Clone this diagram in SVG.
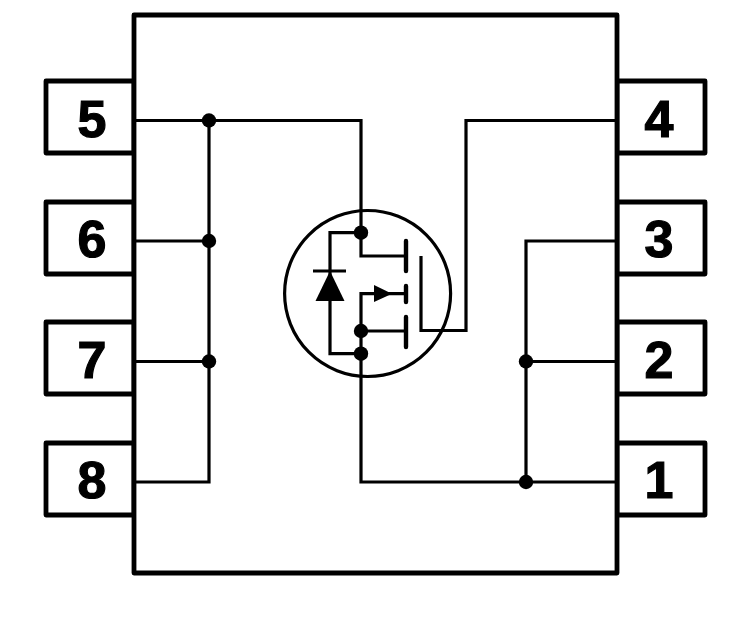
<svg xmlns="http://www.w3.org/2000/svg" width="735" height="622" viewBox="0 0 735 622">
<style>
.b{fill:#fff;stroke:#000;stroke-width:4.8;stroke-linejoin:round}
.w{fill:none;stroke:#000;stroke-width:3.2;stroke-linejoin:miter}
.g{fill:none;stroke:#000;stroke-width:4.4;stroke-linecap:round}
.d{fill:#000}
text{font-family:"Liberation Sans",Arial,sans-serif;font-weight:700;font-size:52px;text-anchor:middle;fill:#000;stroke:#000;stroke-width:1.2}
</style>
<rect width="735" height="622" fill="#fff"/>
<g id="pin5"><rect class="b" x="46" y="81" width="88" height="72"/><text x="92" y="137">5</text></g>
<g id="pin6"><rect class="b" x="46" y="202" width="88" height="72"/><text x="92" y="257">6</text></g>
<g id="pin7"><rect class="b" x="46" y="322" width="88" height="72"/><text x="92" y="378">7</text></g>
<g id="pin8"><rect class="b" x="46" y="443" width="88" height="72"/><text x="92" y="498">8</text></g>
<g id="pin4"><rect class="b" x="617" y="81" width="88" height="72"/><text x="659" y="137">4</text></g>
<g id="pin3"><rect class="b" x="617" y="202" width="88" height="72"/><text x="659" y="257">3</text></g>
<g id="pin2"><rect class="b" x="617" y="322" width="88" height="72"/><text x="659" y="378">2</text></g>
<g id="pin1"><rect class="b" x="617" y="443" width="88" height="72"/><text x="659" y="498">1</text></g>
<g id="body"><rect class="b" x="134" y="15" width="483" height="558"/></g>
<g id="mosfet">
<circle cx="367.6" cy="293.5" r="83" fill="none" stroke="#000" stroke-width="3.2"/>
<path class="g" d="M406 241V271M406 286V302M406 317V347"/>
<path class="d" d="M374 285L392 293.7L374 302Z"/>
<path class="d" d="M330 271L344.5 301H315.5Z"/>
<path class="w" d="M313 271H346"/>
</g>
<g id="connectors">
<path class="w" d="M134 120.5H361V256H406"/>
<path class="w" d="M209 120.5V482H134M134 241H209M134 361.5H209"/>
<path class="w" d="M361 232.7H330V353.7H361"/>
<path class="w" d="M406 293.7H361V482H617"/>
<path class="w" d="M361 331H406"/>
<path class="w" d="M421 256V330.5H466V120.5H617"/>
<path class="w" d="M617 241H526V482M526 361.5H617"/>
<circle class="d" cx="209" cy="120.5" r="7.2"/>
<circle class="d" cx="209" cy="241" r="7.2"/>
<circle class="d" cx="209" cy="361.5" r="7.2"/>
<circle class="d" cx="526" cy="361.5" r="7.2"/>
<circle class="d" cx="526" cy="482" r="7.2"/>
<circle class="d" cx="361" cy="232.7" r="7.2"/>
<circle class="d" cx="361" cy="331" r="7.2"/>
<circle class="d" cx="361" cy="353.7" r="7.2"/>
</g>
</svg>
